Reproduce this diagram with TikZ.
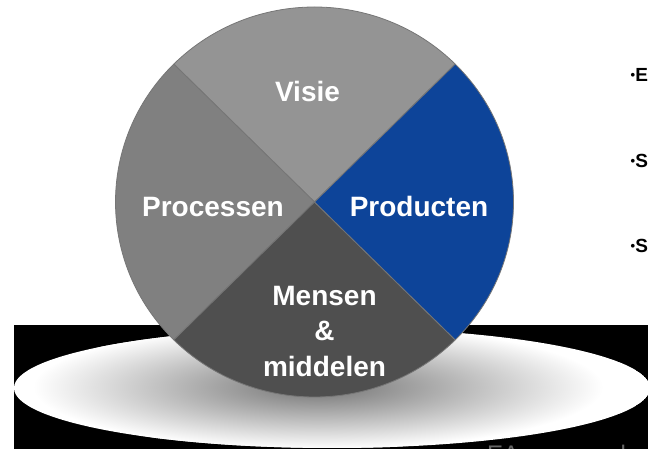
\documentclass[tikz,border=0pt]{standalone}
\usepackage{fontspec}
\setmainfont{Liberation Sans}
\definecolor{visiec}{HTML}{949494}
\definecolor{procc}{HTML}{808080}
\definecolor{mensc}{HTML}{4F4F4F}
\definecolor{prodc}{HTML}{0D4499}
\definecolor{edgec}{HTML}{767676}
\tikzset{
  slice/.style={draw=edgec, line width=0.8pt, line join=round},
  lab/.style={text=white, font=\bfseries\fontsize{28}{35.5}\selectfont, inner sep=0pt},
  side/.style={text=black, font=\bfseries\fontsize{19}{22}\selectfont, anchor=base west, inner sep=0pt},
}
\begin{document}
\begin{tikzpicture}[x=1pt,y=1pt]
\useasboundingbox (0,0) rectangle (648,449);
% shadow block
\fill[black] (14,0) rectangle (648,124);
\begin{scope}
  \clip (332,61) ellipse [x radius=318, y radius=60];
  \fill[white] (332,61) ellipse [x radius=318, y radius=60];
  \shade[inner color=black!55, outer color=white] (318,62) ellipse [x radius=285, y radius=62];
\end{scope}
% pie
\coordinate (c) at (314.5,247);
\path (c) ++({199*cos(45)},{195*sin(45)}) coordinate (tr);
\path (c) ++({199*cos(135)},{195*sin(135)}) coordinate (tl);
\path (c) ++({199*cos(225)},{195*sin(225)}) coordinate (bl);
\path (c) ++({199*cos(315)},{195*sin(315)}) coordinate (br);
\filldraw[slice, fill=visiec] (c) -- (tr) arc[x radius=199, y radius=195, start angle=45, end angle=135] -- cycle;
\filldraw[slice, fill=procc] (c) -- (tl) arc[x radius=199, y radius=195, start angle=135, end angle=225] -- cycle;
\filldraw[slice, fill=mensc] (c) -- (bl) arc[x radius=199, y radius=195, start angle=225, end angle=315] -- cycle;
\filldraw[slice, fill=prodc] (c) -- (br) arc[x radius=199, y radius=195, start angle=-45, end angle=45] -- cycle;
% labels
\node[lab, anchor=base] (visie) at (307.5,347) {Visie};
\node[lab, anchor=base] (proc) at (213,232) {Processen};
\node[lab, anchor=base] (prod) at (419,232) {Producten};
\node[lab, align=center] (mens) at (324.5,117.5) {Mensen\\\&\\middelen};
% side bullets
\node[side] (b1) at (630.5,367) {{\fontsize{13}{13}\selectfont\raisebox{2.5pt}{•}}E};
\node[side] (b2) at (630.5,281) {{\fontsize{13}{13}\selectfont\raisebox{2.5pt}{•}}S};
\node[side] (b3) at (630.5,196) {{\fontsize{13}{13}\selectfont\raisebox{2.5pt}{•}}S};
% footer
\node[anchor=base west, inner sep=0pt, text=black!60, font=\fontsize{24}{28}\selectfont] (ea) at (487,-14) {EA-raamwerk};
\end{tikzpicture}
\end{document}
